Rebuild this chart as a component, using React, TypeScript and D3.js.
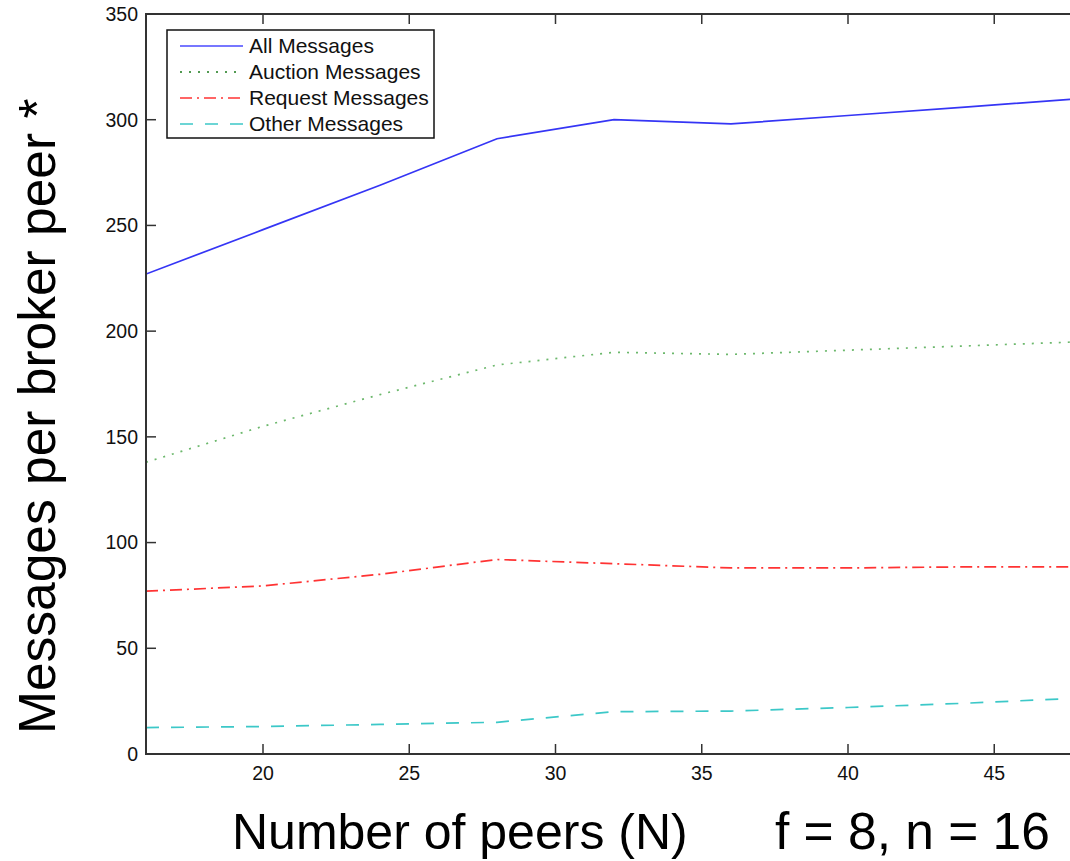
import React from "react";
import * as d3 from "d3";

// number of peers N on the x axis
const peers = [16, 20, 24, 28, 32, 36, 40, 44, 48];
// messages per broker peer
const allMessages = [227, 248, 269, 291, 300, 298, 302, 306, 310];
const auctionMessages = [138, 155, 170, 184, 190, 189, 191, 193, 195];
const requestMessages = [77, 79.5, 85, 92, 90, 88, 88, 88.5, 88.5];
const otherMessages = [12.5, 13, 14, 15, 20, 20.3, 22, 24, 26.5];

const xTicks = [20, 25, 30, 35, 40, 45];
const yTicks = [0, 50, 100, 150, 200, 250, 300, 350];

const seriesNames = ["All Messages", "Auction Messages", "Request Messages", "Other Messages"];

const FONT = "'Liberation Sans', Arial, Helvetica, sans-serif";

const width = 1070;
const height = 861;
const left = 146, top = 14, bottom = 754, right = 1082;

export default function App() {
	const x = d3.scaleLinear().domain([16, 48]).range([left, right]);
	const y = d3.scaleLinear().domain([0, 350]).range([bottom, top]);

	const line = d3.line<number>()
		.x((d, i) => x(peers[i]))
		.y(d => y(d));

	// styles for each series, in legend order
	const series = [
		{ name: seriesNames[0], values: allMessages, stroke: "#3535f5", legendStroke: "#4a4aff", dash: "none" },
		{ name: seriesNames[1], values: auctionMessages, stroke: "#6cb86c", legendStroke: "#1a7a1a", dash: "2,7" },
		{ name: seriesNames[2], values: requestMessages, stroke: "#ff3333", legendStroke: "#ff3333", dash: "12,5,2,5" },
		{ name: seriesNames[3], values: otherMessages, stroke: "#3cc8c8", legendStroke: "#3cc8c8", dash: "13,12" },
	];

	const axisColor = "#333";

	return (
		<svg width={width} height={height} style={{ position: "absolute", left: 0, top: 0, background: "#fff" }}
			fontFamily={FONT}>
			<defs>
				<clipPath id="plotclip">
					<rect x={left} y={top} width={right - left} height={bottom - top} />
				</clipPath>
			</defs>

			{/* series */}
			<g clipPath="url(#plotclip)">
				{series.map(s => (
					<path key={s.name} d={line(s.values) || ""} fill="none" stroke={s.stroke}
						strokeWidth={1.7} strokeDasharray={s.dash} />
				))}
			</g>

			{/* box */}
			<rect x={left} y={top} width={right - left} height={bottom - top} fill="none"
				stroke={axisColor} strokeWidth={2} />

			{/* x ticks, bottom and top, inward */}
			{xTicks.map(t => (
				<g key={"x" + t}>
					<line x1={x(t)} x2={x(t)} y1={bottom} y2={bottom - 10} stroke={axisColor} strokeWidth={1.5} />
					<line x1={x(t)} x2={x(t)} y1={top} y2={top + 10} stroke={axisColor} strokeWidth={1.5} />
					<text x={x(t)} y={bottom + 26} textAnchor="middle" fontSize={19.5} fill="#111">{t}</text>
				</g>
			))}

			{/* y ticks */}
			{yTicks.map(t => (
				<g key={"y" + t}>
					<line x1={left} x2={left + 10} y1={y(t)} y2={y(t)} stroke={axisColor} strokeWidth={1.5} />
					<text x={left - 8} y={y(t)} dy="0.35em" textAnchor="end" fontSize={19.5} fill="#111">{t}</text>
				</g>
			))}

			{/* legend */}
			<g>
				<rect x={167} y={30} width={267} height={108} fill="#fff" stroke="#111" strokeWidth={1.5} />
				{series.map((s, i) => {
					const ly = 46 + i * 26;
					return (
						<g key={"lg" + i}>
							<line x1={180} x2={243} y1={ly} y2={ly} stroke={s.legendStroke} strokeWidth={1.5}
								strokeDasharray={s.dash} />
							<text x={249} y={ly + 7} fontSize={21} fill="#111">{s.name}</text>
						</g>
					);
				})}
			</g>

			{/* axis titles */}
			<text transform="translate(55, 734) rotate(-90)" fontSize={51.5} fill="#000">Messages per broker peer *</text>
			<text x={232} y={849} fontSize={50} fill="#000">Number of peers (N)</text>
			<text x={775} y={849} fontSize={51.5} fill="#000">f = 8, n = 16</text>
		</svg>
	);
}
